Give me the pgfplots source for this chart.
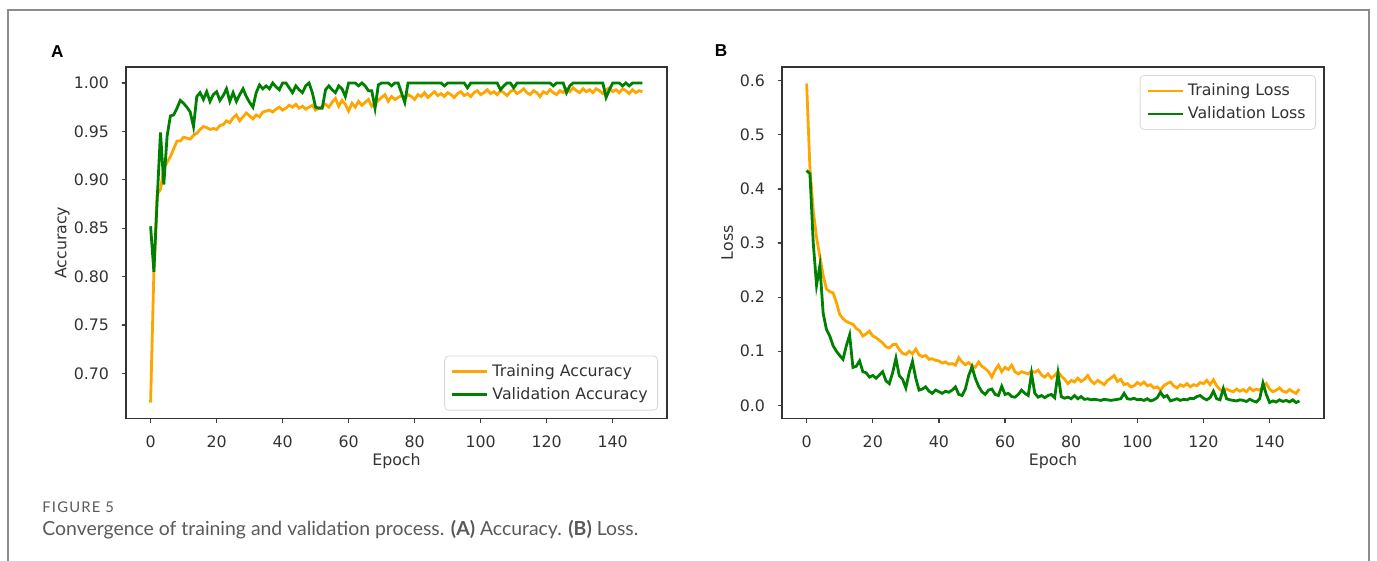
\documentclass[border=0pt]{standalone}
\usepackage{fontspec}
\setmainfont{DejaVu Sans}
\newfontfamily\capfont{Lato}
\newfontfamily\figfont[LetterSpace=8]{Lato}
\newfontfamily\panelfont{Liberation Sans}
\usepackage{pgfplots}
\usepackage{pgfplotstable}
\pgfplotsset{compat=1.18}

\definecolor{mplorange}{HTML}{FFA500}
\definecolor{mplgreen}{HTML}{008000}
\definecolor{capgray}{HTML}{5A5A5A}

% epoch, training accuracy, validation accuracy
\pgfplotstableread{
ep ta va
0 0.670 0.852
1 0.805 0.805
2 0.885 0.880
3 0.890 0.949
4 0.912 0.895
5 0.918 0.945
6 0.924 0.966
7 0.932 0.967
8 0.940 0.974
9 0.940 0.982
10 0.944 0.979
11 0.943 0.975
12 0.942 0.970
13 0.946 0.955
14 0.948 0.986
15 0.952 0.990
16 0.955 0.983
17 0.954 0.991
18 0.952 0.981
19 0.953 0.988
20 0.952 0.991
21 0.956 0.982
22 0.957 0.987
23 0.961 0.994
24 0.959 0.981
25 0.964 0.990
26 0.967 0.981
27 0.961 0.988
28 0.965 0.994
29 0.969 0.986
30 0.966 0.980
31 0.963 0.975
32 0.967 0.990
33 0.965 0.998
34 0.970 0.994
35 0.971 0.997
36 0.972 0.994
37 0.970 1.000
38 0.973 0.996
39 0.975 0.993
40 0.972 1.000
41 0.974 1.000
42 0.977 0.995
43 0.975 0.990
44 0.978 0.997
45 0.974 0.993
46 0.976 0.990
47 0.973 0.997
48 0.975 1.000
49 0.977 0.990
50 0.972 0.975
51 0.974 0.974
52 0.976 0.974
53 0.978 0.993
54 0.975 0.997
55 0.980 0.993
56 0.984 0.990
57 0.976 0.997
58 0.982 0.994
59 0.978 0.986
60 0.971 1.000
61 0.979 1.000
62 0.975 1.000
63 0.981 0.997
64 0.977 1.000
65 0.980 0.997
66 0.983 0.992
67 0.976 0.992
68 0.979 0.974
69 0.982 0.998
70 0.985 1.000
71 0.988 1.000
72 0.981 1.000
73 0.986 0.997
74 0.983 1.000
75 0.985 1.000
76 0.987 0.990
77 0.984 0.980
78 0.988 1.000
79 0.986 1.000
80 0.983 1.000
81 0.988 1.000
82 0.986 1.000
83 0.990 1.000
84 0.985 1.000
85 0.988 1.000
86 0.991 1.000
87 0.987 1.000
88 0.989 1.000
89 0.986 0.997
90 0.990 1.000
91 0.988 1.000
92 0.985 1.000
93 0.989 1.000
94 0.991 1.000
95 0.987 1.000
96 0.989 0.995
97 0.986 1.000
98 0.990 1.000
99 0.992 1.000
100 0.988 1.000
101 0.990 1.000
102 0.993 1.000
103 0.989 1.000
104 0.991 1.000
105 0.988 1.000
106 0.992 0.993
107 0.990 0.997
108 0.987 1.000
109 0.991 1.000
110 0.993 0.995
111 0.989 1.000
112 0.991 1.000
113 0.994 1.000
114 0.990 1.000
115 0.988 1.000
116 0.992 1.000
117 0.990 1.000
118 0.986 1.000
119 0.991 1.000
120 0.989 1.000
121 0.993 1.000
122 0.990 0.997
123 0.988 1.000
124 0.992 1.000
125 0.990 1.000
126 0.994 0.990
127 0.991 0.997
128 0.995 1.000
129 0.992 1.000
130 0.990 1.000
131 0.994 1.000
132 0.991 1.000
133 0.993 1.000
134 0.990 1.000
135 0.994 1.000
136 0.992 1.000
137 0.989 1.000
138 0.993 0.985
139 0.995 0.993
140 0.991 1.000
141 0.993 1.000
142 0.990 1.000
143 0.994 0.997
144 0.992 1.000
145 0.989 0.997
146 0.993 1.000
147 0.990 1.000
148 0.992 1.000
149 0.991 1.000
}\acctab

% epoch, training loss, validation loss
\pgfplotstableread{
ep tl vl
0 0.595 0.434
1 0.438 0.428
2 0.360 0.300
3 0.310 0.222
4 0.275 0.258
5 0.240 0.170
6 0.215 0.140
7 0.210 0.128
8 0.208 0.110
9 0.190 0.100
10 0.168 0.092
11 0.160 0.085
12 0.155 0.110
13 0.152 0.130
14 0.150 0.070
15 0.142 0.072
16 0.138 0.082
17 0.128 0.062
18 0.132 0.060
19 0.137 0.052
20 0.128 0.055
21 0.125 0.050
22 0.120 0.056
23 0.115 0.062
24 0.108 0.045
25 0.106 0.040
26 0.112 0.060
27 0.113 0.087
28 0.103 0.055
29 0.096 0.048
30 0.094 0.032
31 0.100 0.060
32 0.095 0.081
33 0.104 0.050
34 0.093 0.028
35 0.090 0.030
36 0.092 0.034
37 0.085 0.026
38 0.086 0.022
39 0.083 0.028
40 0.082 0.025
41 0.078 0.022
42 0.080 0.026
43 0.076 0.024
44 0.077 0.028
45 0.074 0.034
46 0.088 0.020
47 0.080 0.018
48 0.075 0.030
49 0.079 0.055
50 0.073 0.071
51 0.070 0.050
52 0.080 0.035
53 0.072 0.025
54 0.068 0.020
55 0.062 0.028
56 0.052 0.030
57 0.065 0.020
58 0.074 0.018
59 0.062 0.035
60 0.070 0.020
61 0.066 0.022
62 0.074 0.016
63 0.062 0.015
64 0.058 0.020
65 0.062 0.028
66 0.060 0.022
67 0.058 0.018
68 0.063 0.059
69 0.061 0.022
70 0.065 0.015
71 0.056 0.018
72 0.052 0.014
73 0.058 0.018
74 0.050 0.020
75 0.055 0.014
76 0.062 0.059
77 0.054 0.016
78 0.048 0.013
79 0.040 0.015
80 0.046 0.012
81 0.043 0.018
82 0.050 0.012
83 0.044 0.016
84 0.048 0.011
85 0.055 0.012
86 0.045 0.010
87 0.040 0.011
88 0.046 0.010
89 0.042 0.009
90 0.038 0.011
91 0.046 0.010
92 0.050 0.009
93 0.055 0.010
94 0.044 0.011
95 0.048 0.012
96 0.038 0.022
97 0.040 0.012
98 0.034 0.011
99 0.036 0.013
100 0.042 0.010
101 0.038 0.011
102 0.043 0.009
103 0.036 0.012
104 0.038 0.008
105 0.032 0.010
106 0.034 0.014
107 0.028 0.024
108 0.036 0.015
109 0.040 0.018
110 0.043 0.008
111 0.036 0.010
112 0.032 0.012
113 0.038 0.009
114 0.035 0.011
115 0.040 0.010
116 0.034 0.013
117 0.038 0.012
118 0.036 0.016
119 0.042 0.018
120 0.040 0.013
121 0.046 0.010
122 0.038 0.014
123 0.047 0.026
124 0.036 0.012
125 0.029 0.010
126 0.025 0.031
127 0.030 0.012
128 0.027 0.010
129 0.025 0.009
130 0.030 0.008
131 0.026 0.010
132 0.029 0.009
133 0.025 0.007
134 0.032 0.011
135 0.027 0.008
136 0.030 0.006
137 0.028 0.012
138 0.034 0.041
139 0.040 0.020
140 0.030 0.005
141 0.025 0.008
142 0.028 0.006
143 0.032 0.010
144 0.026 0.007
145 0.024 0.009
146 0.029 0.006
147 0.025 0.010
148 0.022 0.005
149 0.030 0.008
}\losstab

\pgfplotsset{
  mpl/.style={
    scale only axis,
    height=175.75pt,
    xmin=-7.45, xmax=156.45,
    xtick={0,20,40,60,80,100,120,140},
    tick align=outside, tick pos=left,
    major tick length=2pt,
    every tick/.style={black!75, line width=0.6pt},
    axis line style={black!80, line width=0.8pt},
    /pgf/number format/assume math mode=true,
    tick label style={font=\fontsize{7.9}{9}\selectfont, text=black!80},
    label style={font=\fontsize{7.9}{9}\selectfont, text=black!80},
    xticklabel style={yshift=-3pt},
    yticklabel style={xshift=-3pt},
    xlabel={Epoch},
    xlabel style={at={(axis description cs:0.5,-0.122)}, anchor=center},
    legend cell align=left,
    legend image code/.code={\draw[##1, line width=1.4pt] (0pt,0pt) -- (17.5pt,0pt);},
    legend style={draw=black!15, rounded corners=2pt, fill=white,
      font=\fontsize{7.9}{9}\selectfont, text=black!80,
      inner xsep=3pt, inner ysep=2pt, row sep=0pt},
  },
  trn/.style={color=mplorange, line width=1.4pt},
  val/.style={color=mplgreen, line width=1.4pt},
}

\begin{document}
\begin{tikzpicture}
\useasboundingbox (0pt,0pt) rectangle (688.5pt,-280.5pt);
% outer figure frame, open at the bottom
\draw[black!45, line width=1pt] (4pt,-281pt) -- (4pt,-5pt) -- (684.5pt,-5pt) -- (684.5pt,-281pt);

\node[font=\panelfont\bfseries\fontsize{8.6}{10}\selectfont] at (28.7pt,-26pt) {A};
\node[font=\panelfont\bfseries\fontsize{8.6}{10}\selectfont] at (360.5pt,-25.5pt) {B};

\begin{axis}[mpl,
  at={(63pt,-209.25pt)}, anchor=south west,
  width=270.5pt,
  ymin=0.6535, ymax=1.0165,
  ytick={0.70,0.75,0.80,0.85,0.90,0.95,1.00},
  yticklabel style={/pgf/number format/.cd, fixed, fixed zerofill, precision=2},
  ylabel={Accuracy},
  ylabel style={at={(axis description cs:-0.118,0.5)}, anchor=center},
  legend style={at={(axis description cs:1,0)}, anchor=south east, xshift=-4.5pt, yshift=4pt},
]
\addplot[trn] table[x=ep, y=ta] {\acctab};
\addplot[val] table[x=ep, y=va] {\acctab};
\legend{Training Accuracy, Validation Accuracy}
\end{axis}

\begin{axis}[mpl,
  at={(391pt,-209.25pt)}, anchor=south west,
  width=271pt,
  ymin=-0.0245, ymax=0.6255,
  ytick={0,0.1,0.2,0.3,0.4,0.5,0.6},
  yticklabel style={/pgf/number format/.cd, fixed, fixed zerofill, precision=1},
  ylabel={Loss},
  ylabel style={at={(axis description cs:-0.101,0.5)}, anchor=center},
  legend style={at={(axis description cs:1,1)}, anchor=north east, xshift=-4pt, yshift=-4pt},
]
\addplot[trn] table[x=ep, y=tl] {\losstab};
\addplot[val] table[x=ep, y=vl] {\losstab};
\legend{Training Loss, Validation Loss}
\end{axis}

\node[anchor=west, inner sep=0pt, font=\figfont\fontsize{7.4}{8}\selectfont, text=capgray] at (21pt,-253.4pt) {FIGURE 5};
\node[anchor=west, inner sep=0pt, font=\capfont\fontsize{9.7}{11}\selectfont, text=capgray] at (21pt,-265pt)
  {Convergence of training and validation process. \textbf{(A)} Accuracy. \textbf{(B)} Loss.};
\end{tikzpicture}
\end{document}
